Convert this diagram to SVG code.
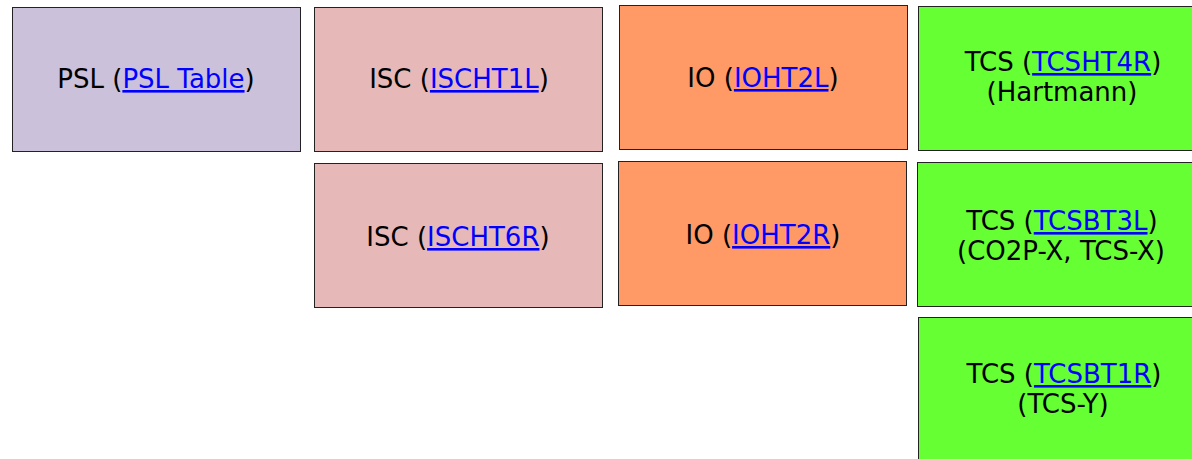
<svg xmlns="http://www.w3.org/2000/svg" width="1192" height="459" viewBox="0 0 1192 459">
<style>
.box{stroke:#222;stroke-width:1}
.psl{fill:#CCC1DA}
.isc{fill:#E6B9B8}
.io{fill:#FF9966}
.tcs{fill:#66FF33}
text{font-family:"DejaVu Sans","Liberation Sans",sans-serif;font-size:26px;fill:#000;text-anchor:middle}
.lnk{fill:#0000FF;text-decoration:underline}
</style>
<rect width="1192" height="459" fill="#fff"/>
<g id="psl">
<rect class="box psl" x="12.5" y="7.5" width="288" height="144"/>
<text x="156" y="88">PSL (<tspan class="lnk">PSL Table</tspan>)</text>
</g>
<g id="isc1">
<rect class="box isc" x="314.5" y="7.5" width="288" height="144"/>
<text x="459" y="88">ISC (<tspan class="lnk">ISCHT1L</tspan>)</text>
</g>
<g id="io1">
<rect class="box io" x="619.5" y="5.5" width="288" height="144"/>
<text x="763" y="87">IO (<tspan class="lnk">IOHT2L</tspan>)</text>
</g>
<g id="tcs1">
<rect class="box tcs" x="918.5" y="6.5" width="290" height="144"/>
<text x="1063" y="71">TCS (<tspan class="lnk">TCSHT4R</tspan>)</text>
<text x="1062" y="101">(Hartmann)</text>
</g>
<g id="isc2">
<rect class="box isc" x="314.5" y="163.5" width="288" height="144"/>
<text x="458" y="246">ISC (<tspan class="lnk">ISCHT6R</tspan>)</text>
</g>
<g id="io2">
<rect class="box io" x="618.5" y="161.5" width="288" height="144"/>
<text x="763" y="244">IO (<tspan class="lnk">IOHT2R</tspan>)</text>
</g>
<g id="tcs2">
<rect class="box tcs" x="917.5" y="162.5" width="290" height="144"/>
<text x="1062" y="230">TCS (<tspan class="lnk">TCSBT3L</tspan>)</text>
<text x="1061" y="260">(CO2P-X, TCS-X)</text>
</g>
<g id="tcs3">
<rect class="box tcs" x="918.5" y="317.5" width="290" height="150"/>
<text x="1064" y="383">TCS (<tspan class="lnk">TCSBT1R</tspan>)</text>
<text x="1063" y="413">(TCS-Y)</text>
</g>
<g id="connectors"/>
</svg>
